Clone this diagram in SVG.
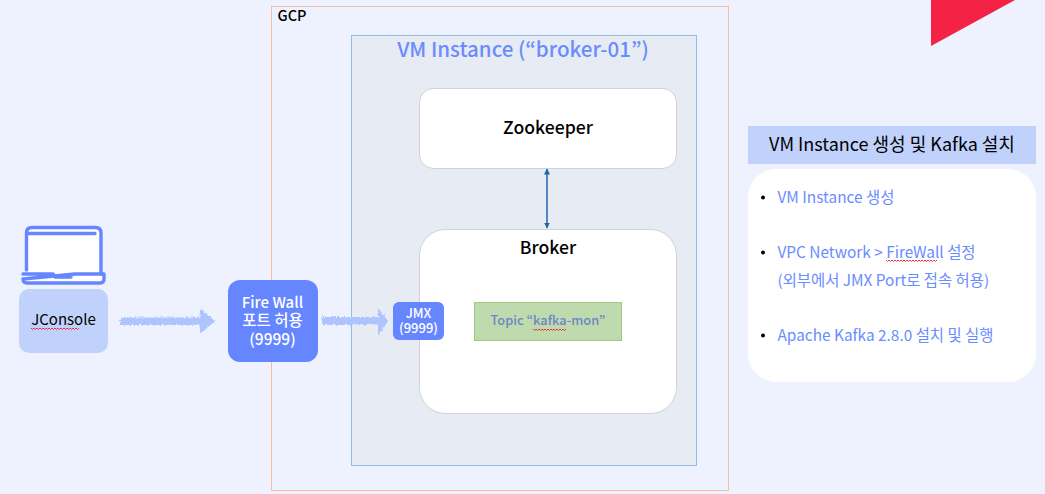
<svg xmlns="http://www.w3.org/2000/svg" width="1045" height="494" viewBox="0 0 1045 494">
<style>
text{font-family:"Noto Sans CJK KR","Noto Sans",sans-serif;text-anchor:middle}
.k{fill:#000;font-weight:500}
.w{fill:#fff;font-weight:500}
.b{fill:#6a8cff;font-size:15.400px;font-weight:400}
.l{text-anchor:start}
.card{fill:#fff;stroke:#cfd2d8;stroke-width:1}
.sq{fill:none;stroke:#e8323c;stroke-width:1}
.dot{fill:#000}
.fat{fill:#aec4ff;filter:url(#rough)}
.ic{fill:none;stroke:#6686ff;stroke-width:3.4;stroke-linecap:round;stroke-linejoin:round}
</style>
<defs>
<filter id="rough" x="-10%" y="-60%" width="120%" height="220%">
<feTurbulence type="fractalNoise" baseFrequency="0.5" numOctaves="2" seed="4"/>
<feDisplacementMap in="SourceGraphic" scale="4.500" xChannelSelector="R" yChannelSelector="G"/>
</filter>
<marker id="ah" viewBox="0 0 6 6" refX="5.500" refY="3" markerWidth="6" markerHeight="6" orient="auto-start-reverse" markerUnits="userSpaceOnUse"><path d="M0 0L6 3L0 6Z" fill="#1f66a8"/></marker>
</defs>
<rect width="1045" height="494" fill="#eef2fe"/>
<polygon id="corner" points="931,0 1015,0 931,46" fill="#f42244"/>
<g id="gcp"><rect x="271.500" y="6.500" width="457" height="484" fill="none" stroke="#f7bd9c"/><text x="292" y="21" class="k" font-size="14.500" style="font-weight:500">GCP</text></g>
<g id="vm"><rect x="351.500" y="35.500" width="345" height="430" fill="#e7ebf4" stroke="#93bce0"/><text x="523" y="56.500" font-size="20.500" fill="#6a8cff" style="font-weight:500">VM Instance (“broker-01”)</text></g>
<g id="zookeeper"><rect class="card" x="419.500" y="88.500" width="257" height="80" rx="14"/><text x="548" y="134" class="k" font-size="17.600">Zookeeper</text></g>
<g id="broker"><rect class="card" x="419.500" y="229.500" width="257" height="184" rx="26"/><text x="548" y="254" class="k" font-size="17.600">Broker</text></g>
<g id="topic"><rect x="474.500" y="302.500" width="147" height="38" fill="#bfdbae" stroke="#9ccb86"/><text x="548" y="325" font-size="12.800" fill="#6b85c8" style="font-weight:500">Topic “kafka-mon”</text><path class="sq" d="M533 329l1.500 1.500 1.500-1.500 1.500 1.500 1.500-1.500 1.500 1.500 1.500-1.500 1.500 1.500 1.500-1.500 1.500 1.500 1.500-1.500 1.500 1.500 1.500-1.500 1.500 1.500 1.500-1.500 1.500 1.500 1.500-1.500 1.500 1.500 1.500-1.500 1.500 1.500 1.500-1.500 1.500 1.500 1.500-1.500"/></g>
<g id="laptop">
<path d="M28 270V228H100V274H28Z" fill="#fff"/><path d="M23 275H105V282H23Z" fill="#fff"/>
<path class="ic" d="M26.500 270V233Q26.500 227.500 32 227.500H95.500Q101 227.500 101 233V274"/>
<path class="ic" d="M28 233.500H95"/>
<path class="ic" d="M23 274H53L55 277H71M75 274H104V279Q104 283 100 283H27Q23 283 23 279Z"/>
</g>
<g id="jconsole"><rect x="19" y="289" width="89" height="64" rx="10" fill="#c0d1fc"/><text x="63.500" y="325" font-size="15" fill="#000">JConsole</text><path class="sq" d="M31 328l1.500 1.500 1.500-1.500 1.500 1.500 1.500-1.500 1.500 1.500 1.500-1.500 1.500 1.500 1.500-1.500 1.500 1.500 1.500-1.500 1.500 1.500 1.500-1.500 1.500 1.500 1.500-1.500 1.500 1.500 1.500-1.500 1.500 1.500 1.500-1.500 1.500 1.500 1.500-1.500 1.500 1.500 1.500-1.500 1.500 1.500 1.500-1.500 1.500 1.500 1.500-1.500 1.500 1.500 1.500-1.500 1.500 1.500 1.500-1.500 1.500 1.500 1.500-1.500"/></g>
<g id="firewall"><rect x="228" y="280" width="90" height="82" rx="12" fill="#6686ff"/><text class="w" font-size="15"><tspan x="272.500" y="308">Fire Wall</tspan><tspan x="272.500" y="326" font-size="15.500">포트 허용</tspan><tspan x="272.500" y="345" font-size="15.500">(9999)</tspan></text></g>
<g id="jmx"><rect x="393" y="302" width="51" height="38" rx="6" fill="#6686ff"/><text class="w" font-size="13"><tspan x="418.500" y="318">JMX</tspan><tspan x="418.500" y="333">(9999)</tspan></text></g>
<g id="connectors">
<polygon class="fat" points="120,317.500 200,317.500 200,308 215,321 200,334 200,325 120,325"/>
<polygon class="fat" points="322,317 378,317 378,308 388,321 378,335 378,325 322,325"/>
<line x1="547" y1="169" x2="547" y2="228" stroke="#1f66a8" stroke-width="1.500" marker-start="url(#ah)" marker-end="url(#ah)"/>
</g>
<g id="panel-title"><rect x="748" y="126" width="288" height="38" fill="#c0d1fc"/><text x="892" y="151" font-size="18" fill="#000">VM Instance 생성 및 Kafka 설치</text></g>
<g id="panel"><rect x="748" y="169" width="288" height="213" rx="28" fill="#fff"/>
<circle class="dot" cx="763" cy="197.500" r="2"/><text class="b l" x="777.500" y="203">VM Instance 생성</text>
<circle class="dot" cx="763" cy="252.500" r="2"/><text class="b l" x="777.500" y="258">VPC Network &gt; FireWall 설정</text>
<path class="sq" d="M886 260l1.500 1.500 1.500-1.500 1.500 1.500 1.500-1.500 1.500 1.500 1.500-1.500 1.500 1.500 1.500-1.500 1.500 1.500 1.500-1.500 1.500 1.500 1.500-1.500 1.500 1.500 1.500-1.500 1.500 1.500 1.500-1.500 1.500 1.500 1.500-1.500 1.500 1.500 1.500-1.500 1.500 1.500 1.500-1.500 1.500 1.500 1.500-1.500 1.500 1.500 1.500-1.500 1.500 1.500 1.500-1.500 1.500 1.500 1.500-1.500 1.500 1.500 1.500-1.500 1.500 1.500 1.500-1.500"/>
<text class="b l" x="777.500" y="286">(외부에서 JMX Port로 접속 허용)</text>
<circle class="dot" cx="763" cy="335.500" r="2"/><text class="b l" x="777.500" y="341">Apache Kafka 2.8.0 설치 및 실행</text>
</g>
</svg>
